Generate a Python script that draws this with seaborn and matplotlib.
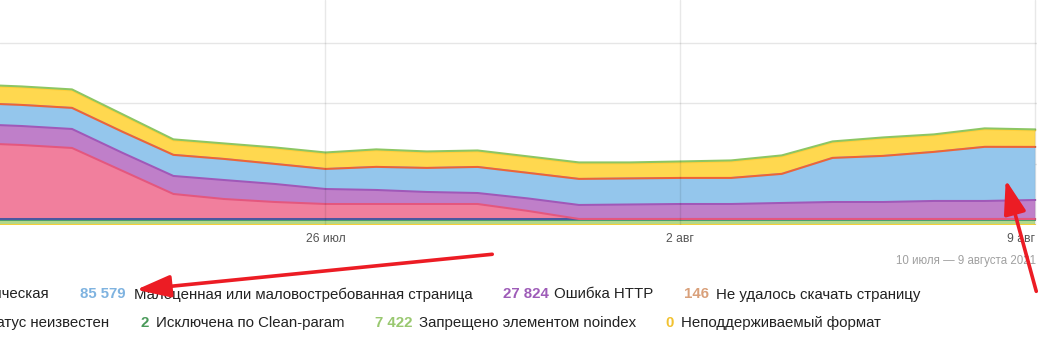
import numpy as np
import pandas as pd
import matplotlib
matplotlib.use("Agg")
import matplotlib.pyplot as plt
import matplotlib.dates as mdates
from matplotlib.patches import FancyArrowPatch
import seaborn as sns

# ---------------- data ----------------
dates = pd.date_range("2021-07-19", "2021-08-09", freq="D")

unsupported_format = [0] * 22
noindex = [7422] * 22
clean_param = [2] * 22
status_unknown = [2000] * 22
noncanonical = [125200, 121900, 117000, 79100, 41200, 32900, 28000, 24700, 24700, 24700, 24700,
                13200, 0, 0, 0, 0, 0, 0, 0, 0, 0, 0]
http_error = [31300, 31300, 31300, 29700, 29700, 31300, 29700, 24700, 23100, 19800, 18100,
              20600, 23100, 23900, 24700, 24700, 26400, 28000, 28000, 29700, 29700, 31300]
low_value = [34600, 34600, 34600, 34600, 34600, 34600, 32900, 32900, 37900, 39500, 42800,
             42000, 42800, 42800, 42800, 42800, 47800, 72500, 75800, 80700, 89000, 87300]
download_failed = [146] * 22
duplicate = [28800, 28800, 28800, 27200, 23900, 23900, 25500, 25500, 27200, 25500, 25500,
             25500, 25500, 24700, 25500, 27200, 28800, 25500, 28800, 27200, 28800, 27200]
robots = [1650] * 22

series_names = ["Неподдерживаемый формат", "Запрещено элементом noindex", "Исключена по Clean-param",
                "Статус неизвестен", "Неканоническая", "Ошибка HTTP",
                "Малоценная или маловостребованная страница", "Не удалось скачать страницу",
                "Дубль", "Запрещено в robots.txt"]
series_values = [unsupported_format, noindex, clean_param, status_unknown, noncanonical,
                 http_error, low_value, download_failed, duplicate, robots]

tick_dates = ["2021-07-26", "2021-08-02", "2021-08-09"]
tick_labels = ["26 июл", "2 авг", "9 авг"]
period_label = "10 июля — 9 августа 2021"

legend_row1 = [("", "Неканоническая"),
               ("85 579", "Малоценная или маловостребованная страница"),
               ("27 824", "Ошибка HTTP"),
               ("146", "Не удалось скачать страницу")]
legend_row2 = [("", "Статус неизвестен"),
               ("2", "Исключена по Clean-param"),
               ("7 422", "Запрещено элементом noindex"),
               ("0", "Неподдерживаемый формат")]

# ---------------- style ----------------
fill_colors = ["#f6d34a", "#b3d88a", "#5aa878", "#4f5ea8", "#f17f9d", "#bf7fc9",
               "#94c6ec", "#f0643c", "#ffd84f", "#8dc663"]
line_colors = ["#f5cf3a", "#9ccc65", "#4e9f6e", "#4b58a0", "#e4577e", "#a058b8",
               "#82bbea", "#ee6436", "#ffcf3a", "#8dc663"]
num_colors1 = [None, "#7fb3e0", "#9e5cb8", "#d9a07a"]
num_colors2 = [None, "#4a9a5a", "#99c870", "#f2c230"]

sns.set_theme(style="white")
plt.rcParams["font.family"] = ["Liberation Sans", "DejaVu Sans"]

W, H = 1058, 363
fig = plt.figure(figsize=(W / 100, H / 100), dpi=100)

px_per_day = 50.7
x26 = 325.5
axes_right_px = 1037
y0_px = 224.7
px_per_unit = 60.7 / 100000

ax = fig.add_axes([0, (H - y0_px) / H, axes_right_px / W, y0_px / H])
d26 = mdates.date2num(pd.Timestamp("2021-07-26"))
xmin = d26 - x26 / px_per_day
xmax = xmin + axes_right_px / px_per_day

xnum = mdates.date2num(dates)
vals = np.array(series_values, dtype=float)
cum = np.cumsum(vals, axis=0)
lower = np.vstack([np.zeros(len(dates)), cum[:-1]])

for i in range(len(series_names)):
    ax.fill_between(xnum, lower[i], cum[i], color=fill_colors[i], lw=0, zorder=2)

long = pd.DataFrame({
    "x": np.tile(xnum, len(series_names)),
    "top": cum.ravel(),
    "series": np.repeat(series_names, len(dates)),
})
sns.lineplot(data=long, x="x", y="top", hue="series", hue_order=series_names,
             palette=dict(zip(series_names, line_colors)), linewidth=1.45,
             legend=False, ax=ax, zorder=3)

ax.set_xlim(xmin, xmax)
ax.set_ylim(0, y0_px / px_per_unit)

ax.set_yticks([100000, 200000, 300000])
ax.yaxis.grid(True, color="#e6e6e6", lw=1)
ax.xaxis.grid(False)
ax.set_axisbelow(True)
for t in tick_dates:
    ax.axvline(mdates.date2num(pd.Timestamp(t)), color="#000000", alpha=0.09, lw=1, zorder=4)

ax.set_xticks([mdates.date2num(pd.Timestamp(t)) for t in tick_dates])
ax.set_xticklabels(tick_labels)
ax.tick_params(axis="x", length=0, pad=6, labelsize=8.7, labelcolor="#555555")
ax.tick_params(axis="y", length=0, labelleft=False)
ax.xaxis.get_majorticklabels()[-1].set_horizontalalignment("right")
ax.set_xlabel("")
ax.set_ylabel("")
for s in ax.spines.values():
    s.set_visible(False)


def fx(px):
    return px / W


def fy(py):
    return 1 - py / H


fig.text(fx(1036), fy(261), period_label, ha="right", va="center", fontsize=8.3,
         color="#a0a0a0")

fs = 10.8
row_specs = [(294.5, legend_row1, num_colors1, 49.7,
              [(80.5, 133.5), (502.7, 554.3), (684.0, 716.3)]),
             (323.3, legend_row2, num_colors2, 108.9,
              [(140.3, 155.5), (374.6, 419.2), (665.8, 681.3)])]
for ypx, items, ncols, first_end, pos in row_specs:
    fig.text(fx(first_end), fy(ypx), items[0][1], ha="right", va="center", fontsize=fs,
             color="#222222")
    for (num, lab), col, (nx, lx) in zip(items[1:], ncols[1:], pos):
        fig.text(fx(nx), fy(ypx), num, ha="left", va="center", fontsize=fs,
                 color=col, fontweight="bold")
        fig.text(fx(lx), fy(ypx), lab, ha="left", va="center", fontsize=fs,
                 color="#222222")

# red annotation arrows
for (x1, y1), (x2, y2) in [((495, 254), (133.5, 290)), ((1037, 294), (1005, 177))]:
    arr = FancyArrowPatch((fx(x1), fy(y1)), (fx(x2), fy(y2)), transform=fig.transFigure,
                          arrowstyle="-|>,head_length=2.6,head_width=0.85",
                          mutation_scale=8, color="#ec1c24", lw=2.6, zorder=10)
    fig.add_artist(arr)

fig.savefig("out.png", dpi=100)
